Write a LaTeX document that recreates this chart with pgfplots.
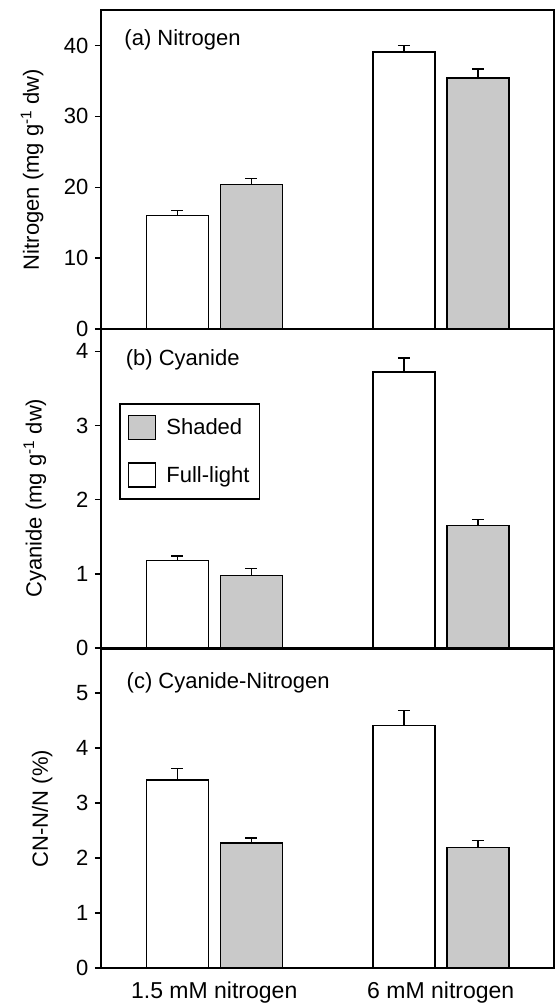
\documentclass[border=0pt]{standalone}
\usepackage{fontspec}
\setmainfont{Liberation Sans}
\usepackage{pgfplots}
\pgfplotsset{compat=1.18}
\definecolor{shade}{RGB}{201,201,201}
\newcommand{\fs}{\fontsize{22}{26}\selectfont}
\newcommand{\fx}{\fontsize{23}{27}\selectfont}
\pgfplotsset{
  panel/.style={
    scale only axis, width=453pt, height=319pt,
    anchor=north west,
    xmin=0.5, xmax=2.5, ymin=0,
    ybar=12pt, bar width=62pt,
    axis line style={line width=1.5pt},
    xtick={1,2}, xticklabels={}, xtick style={draw=none},
    ytick pos=left, tick align=outside, major tick length=6pt,
    ytick style={line width=1.4pt, black},
    tick label style={font=\fs},
    /pgf/number format/assume math mode=true,
    yticklabel style={xshift=-3pt},
    label style={font=\fs},
    clip=false,
  },
  white bar/.style={fill=white, draw=black, line width=1.5pt,
    error bars/.cd, y dir=plus, y explicit,
    error bar style={line width=1.5pt, black},
    error mark options={rotate=90, mark size=6pt, line width=1.5pt, black}},
  gray bar/.style={fill=shade, draw=black, line width=1.5pt,
    error bars/.cd, y dir=plus, y explicit,
    error bar style={line width=1.5pt, black},
    error mark options={rotate=90, mark size=6pt, line width=1.5pt, black}},
}
\begin{document}
\begin{tikzpicture}
\useasboundingbox (0pt,0pt) rectangle (556pt,-1007pt);
% (a) Nitrogen
\begin{axis}[panel, at={(101pt,-10pt)}, ymax=45, ytick={0,10,20,30,40},
  ylabel={Nitrogen (mg g\textsuperscript{-1} dw)},
  ylabel style={at={(axis description cs:-0.152,0.5)}, anchor=center}]
\addplot[white bar] coordinates {(1,16.0) +- (0,0.75) (2,39.1) +- (0,0.9)};
\addplot[gray bar] coordinates {(1,20.4) +- (0,0.8) (2,35.4) +- (0,1.3)};
\node[font=\fs, anchor=west] at (rel axis cs:0.044,0.907) {(a) Nitrogen};
\end{axis}
% (b) Cyanide
\begin{axis}[panel, at={(101pt,-329pt)}, ymax=4.3, ytick={0,1,2,3,4},
  ylabel={Cyanide (mg g\textsuperscript{-1} dw)},
  ylabel style={at={(axis description cs:-0.146,0.47)}, anchor=center},
  reverse legend,
  legend style={at={(0.04,0.768)}, anchor=north west, draw=black, line width=1.5pt,
    font=\fs, row sep=22pt, inner xsep=8pt, inner ysep=11pt,
    /tikz/every odd column/.append style={column sep=8pt}},
  legend cell align=left,
  legend image code/.code={\draw[#1, line width=1.5pt] (0pt,-12pt) rectangle (27pt,12pt);}]
\addplot[white bar] coordinates {(1,1.18) +- (0,0.06) (2,3.72) +- (0,0.19)};
\addlegendentry{Full-light}
\addplot[gray bar] coordinates {(1,0.98) +- (0,0.09) (2,1.65) +- (0,0.08)};
\addlegendentry{Shaded}
\node[font=\fs, anchor=west] at (rel axis cs:0.047,0.903) {(b) Cyanide};
\end{axis}
% (c) Cyanide-Nitrogen
\begin{axis}[panel, at={(101pt,-649pt)}, ymax=5.8, ytick={0,1,2,3,4,5},
  ylabel={CN-N/N (\%)},
  ylabel style={at={(axis description cs:-0.130,0.5)}, anchor=center},
  xticklabels={1.5 mM nitrogen, 6 mM nitrogen},
  xticklabel style={yshift=-4pt, font=\fx}]
\addplot[white bar] coordinates {(1,3.42) +- (0,0.21) (2,4.41) +- (0,0.27)};
\addplot[gray bar] coordinates {(1,2.27) +- (0,0.09) (2,2.19) +- (0,0.13)};
\node[font=\fs, anchor=west] at (rel axis cs:0.049,0.893) {(c) Cyanide-Nitrogen};
\end{axis}
\end{tikzpicture}
\end{document}
